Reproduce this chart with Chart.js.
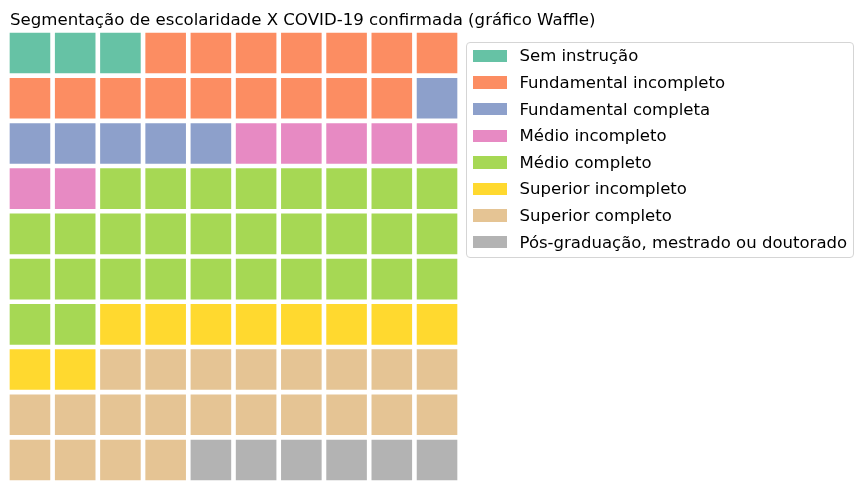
<!DOCTYPE html>
<html>
<head>
<meta charset="utf-8">
<script src="https://cdn.jsdelivr.net/npm/chart.js@4/dist/chart.umd.min.js"></script>
<style>
  html, body { margin: 0; padding: 0; background: #fff; }
  #wrap { position: relative; width: 864px; height: 490px; overflow: hidden; font-family: "DejaVu Sans", sans-serif; }
  #c { position: absolute; left: 0; top: 0; }
  #title { position: absolute; left: 10px; top: 9.8px; font-size: 16.6px; line-height: 20px; color: #000; white-space: nowrap; }
  #legend { position: absolute; left: 465.5px; top: 41.5px; width: 388px; height: 216.5px; border: 1px solid #d5d5d5; border-radius: 4px; background: rgba(255,255,255,0.8); box-sizing: border-box; }
  .row { position: absolute; left: 0; height: 26.6px; display: flex; align-items: center; font-size: 16.55px; color: #000; white-space: nowrap; }
  .patch { position: absolute; left: 6px; width: 34px; height: 12.6px; }
  .lbl { position: absolute; left: 53px; }
</style>
</head>
<body>
<div id="wrap">
  <canvas id="c" width="864" height="490"></canvas>
  <div id="title">Segmentação de escolaridade X COVID-19 confirmada (gráfico Waffle)</div>
  <div id="legend"></div>
</div>
<script>
// ---- Data ----
const categories = [
  "Sem instrução",
  "Fundamental incompleto",
  "Fundamental completa",
  "Médio incompleto",
  "Médio completo",
  "Superior incompleto",
  "Superior completo",
  "Pós-graduação, mestrado ou doutorado"
];
const counts = [3, 16, 6, 7, 30, 10, 22, 6];
const colors = ["#66c2a5", "#fc8d62", "#8da0cb", "#e78ac3", "#a6d854", "#ffd92f", "#e5c494", "#b3b3b3"];
const nRows = 10;
const nCols = 10;
const columnLabels = ["1","2","3","4","5","6","7","8","9","10"];

// ---- Build cell category list (row-major from top-left) ----
const cellCat = [];
counts.forEach((n, ci) => { for (let k = 0; k < n; k++) cellCat.push(ci); });

// datasets: index 0 = bottom row
const datasets = [];
for (let d = 0; d < nRows; d++) {
  const rowFromTop = nRows - 1 - d;
  const bg = [];
  const vals = [];
  for (let c = 0; c < nCols; c++) {
    const idx = rowFromTop * nCols + c;
    bg.push(colors[cellCat[idx]]);
    vals.push(1);
  }
  datasets.push({
    label: "row" + (rowFromTop + 1),
    data: vals,
    backgroundColor: bg,
    borderColor: "#ffffff",
    borderWidth: 2.65,
    borderSkipped: false,
    categoryPercentage: 1.0,
    barPercentage: 1.0
  });
}

new Chart(document.getElementById("c"), {
  type: "bar",
  data: { labels: columnLabels, datasets: datasets },
  options: {
    responsive: false,
    devicePixelRatio: 1,
    animation: false,
    layout: { padding: { left: 7.35, right: 404.35, top: 30.35, bottom: 7.35 } },
    plugins: { legend: { display: false }, title: { display: false }, tooltip: { enabled: false } },
    scales: {
      x: { stacked: true, display: false, grid: { display: false } },
      y: { stacked: true, display: false, min: 0, max: nRows, grid: { display: false } }
    }
  }
});

// ---- Legend ----
const legend = document.getElementById("legend");
categories.forEach((name, i) => {
  const row = document.createElement("div");
  row.className = "row";
  row.style.top = (0.2 + i * 26.6) + "px";
  row.style.width = "386px";
  const p = document.createElement("div");
  p.className = "patch";
  p.style.background = colors[i];
  p.style.top = "7px";
  const t = document.createElement("div");
  t.className = "lbl";
  t.textContent = name;
  row.appendChild(p);
  row.appendChild(t);
  legend.appendChild(row);
});
</script>
</body>
</html>
